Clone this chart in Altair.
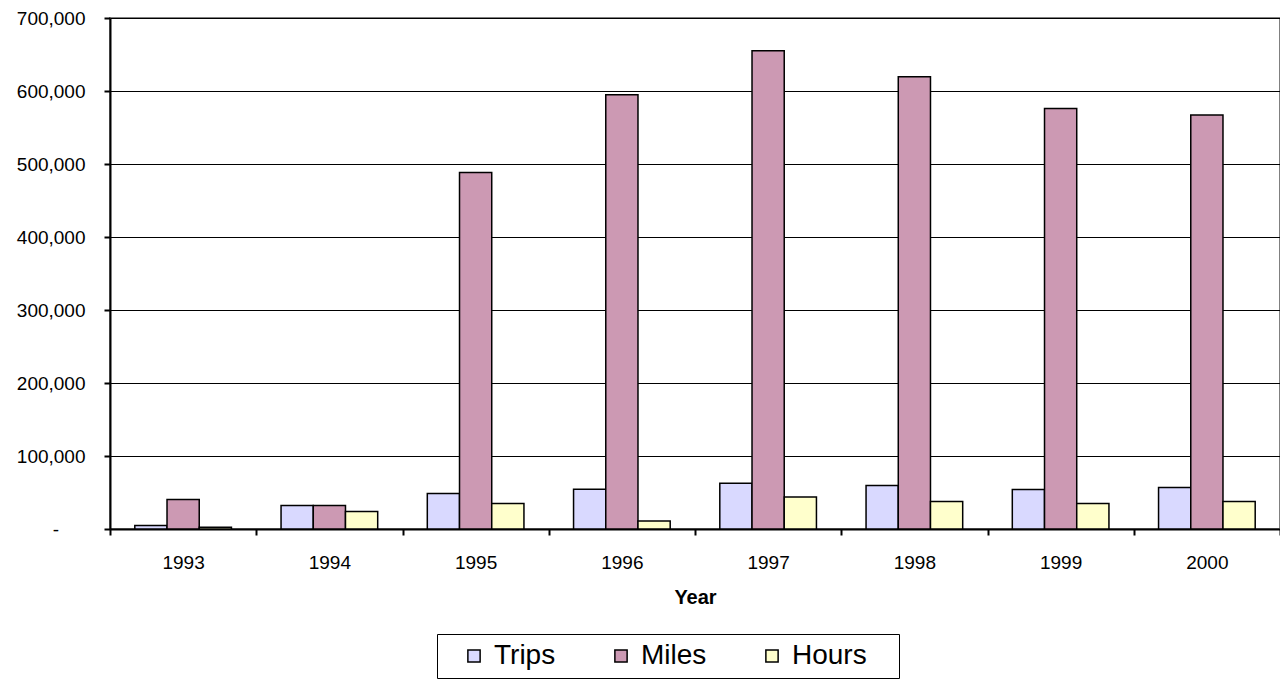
import altair as alt
import pandas as pd

years = ["1993", "1994", "1995", "1996", "1997", "1998", "1999", "2000"]
trips = [4800, 32300, 48700, 54600, 62800, 59600, 54200, 56900]
miles = [40500, 32300, 488500, 595000, 655000, 619500, 576000, 567000]
hours = [2300, 24100, 35000, 11000, 43700, 37800, 35000, 37800]
series = ["Trips", "Miles", "Hours"]
colors = ["#D9D9FF", "#CC99B3", "#FFFFCC"]

rows = []
for i, y in enumerate(years):
    for s, vals in zip(series, [trips, miles, hours]):
        rows.append({"Year": y, "Series": s, "Value": vals[i]})
df = pd.DataFrame(rows)

FONT = "Liberation Sans"
PAD = "\u00a0"
END = "\u200b"

chart = alt.Chart(df).mark_bar(stroke="black", strokeWidth=1.5).encode(
    x=alt.X("Year:N", sort=years,
            scale=alt.Scale(paddingInner=0, paddingOuter=0),
            axis=alt.Axis(title="Year", labelAngle=0, tickBand="extent",
                          domainColor="black", domainWidth=2,
                          tickColor="black", tickWidth=2, tickSize=6,
                          labelFontSize=19, labelColor="black", labelPadding=18,
                          titleFontSize=20, titleFontWeight="bold", titleColor="black",
                          titlePadding=15, labelFont=FONT, titleFont=FONT)),
    xOffset=alt.XOffset("Series:N", sort=series,
                        scale=alt.Scale(paddingInner=0, paddingOuter=0.77)),
    y=alt.Y("Value:Q",
            scale=alt.Scale(domain=[0, 700000], nice=False),
            axis=alt.Axis(title=None, values=[0, 100000, 200000, 300000, 400000, 500000, 600000, 700000],
                          labelExpr="datum.value == 0 ? '-" + PAD * 5 + END + "' : format(datum.value, ',')",
                          domainColor="black", domainWidth=2,
                          tickColor="black", tickWidth=2, tickSize=6,
                          gridColor="black", gridWidth=1,
                          labelFontSize=19, labelColor="black", labelPadding=19,
                          labelFont=FONT)),
    fill=alt.Fill("Series:N", sort=series,
                  scale=alt.Scale(domain=series, range=colors),
                  legend=alt.Legend(title=None, orient="none", direction="horizontal",
                                    legendX=327, legendY=616,
                                    strokeColor="black", padding=8,
                                    symbolType="square", symbolSize=150,
                                    symbolStrokeColor="black", symbolStrokeWidth=1.5,
                                    symbolOffset=15,
                                    labelFontSize=28, labelFont=FONT, labelColor="black",
                                    labelOffset=6, columnPadding=36,
                                    labelExpr="datum.label == 'Hours' ? 'Hours" + PAD * 3 + END + "' : datum.label")),
).properties(
    width=1170, height=511,
    autosize=alt.AutoSizeParams(type="none"),
    padding={"left": 102, "top": 10, "right": 0, "bottom": 151},
).configure_view(
    stroke="#808080", strokeWidth=2
).configure_axis(
    grid=False
).configure_axisY(
    grid=True
)

chart.save("out.html", embed_options={"renderer": "svg", "actions": False})
